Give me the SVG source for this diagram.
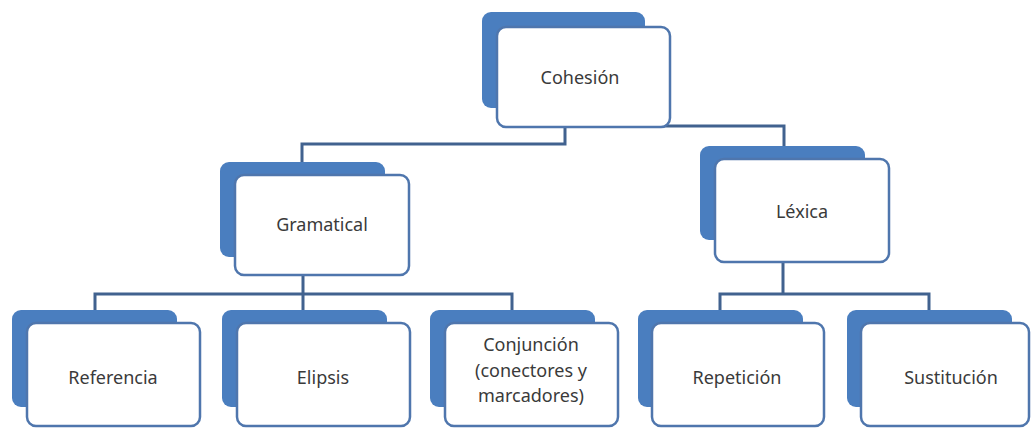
<svg xmlns="http://www.w3.org/2000/svg" width="1031" height="429" viewBox="0 0 1031 429">
<style>
.back{fill:#4a7ebf;}
.front{fill:#ffffff;stroke:#4f76ad;stroke-width:2.5;}
.conn{fill:none;stroke:#41628f;stroke-width:3;}
text{font-family:"Noto Sans","Open Sans",sans-serif;font-size:18px;fill:#3a3a3a;text-anchor:middle;}
</style>
<rect width="1031" height="429" fill="#ffffff"/>
<g id="connectors">
<path class="conn" d="M565,110 V144 H302 V162"/>
<path class="conn" d="M565,110 V126 H784 V146"/>
<path class="conn" d="M303,260 V294 H95 V310 M303,294 V310 M303,294 H512 V310"/>
<path class="conn" d="M783,245 V294 H720 V310 M783,294 H929 V310"/>
</g>
<g id="cohesion">
<rect class="back" x="482" y="12" width="163" height="96" rx="9"/>
<rect class="front" x="497" y="27" width="173" height="100" rx="9"/>
<text x="580" y="84">Cohesión</text>
</g>
<g id="gramatical">
<rect class="back" x="220" y="162" width="165" height="95" rx="9"/>
<rect class="front" x="235" y="175" width="174" height="100" rx="9"/>
<text x="322" y="231">Gramatical</text>
</g>
<g id="lexica">
<rect class="back" x="700" y="146" width="165" height="94" rx="9"/>
<rect class="front" x="715" y="159" width="174" height="103" rx="9"/>
<text x="802" y="218">Léxica</text>
</g>
<g id="referencia">
<rect class="back" x="12" y="310" width="165" height="97" rx="9"/>
<rect class="front" x="27" y="323" width="173" height="103" rx="9"/>
<text x="113" y="384">Referencia</text>
</g>
<g id="elipsis">
<rect class="back" x="222" y="310" width="165" height="97" rx="9"/>
<rect class="front" x="237" y="323" width="173" height="103" rx="9"/>
<text x="323" y="384">Elipsis</text>
</g>
<g id="conjuncion">
<rect class="back" x="430" y="310" width="165" height="97" rx="9"/>
<rect class="front" x="445" y="323" width="173" height="103" rx="9"/>
<text x="531" y="351">Conjunción</text>
<text x="531" y="377">(conectores y</text>
<text x="531" y="402">marcadores)</text>
</g>
<g id="repeticion">
<rect class="back" x="638" y="310" width="165" height="97" rx="9"/>
<rect class="front" x="652" y="323" width="172" height="103" rx="9"/>
<text x="737" y="384">Repetición</text>
</g>
<g id="sustitucion">
<rect class="back" x="847" y="310" width="165" height="97" rx="9"/>
<rect class="front" x="861" y="323" width="168" height="103" rx="9"/>
<text x="951" y="384">Sustitución</text>
</g>
</svg>
